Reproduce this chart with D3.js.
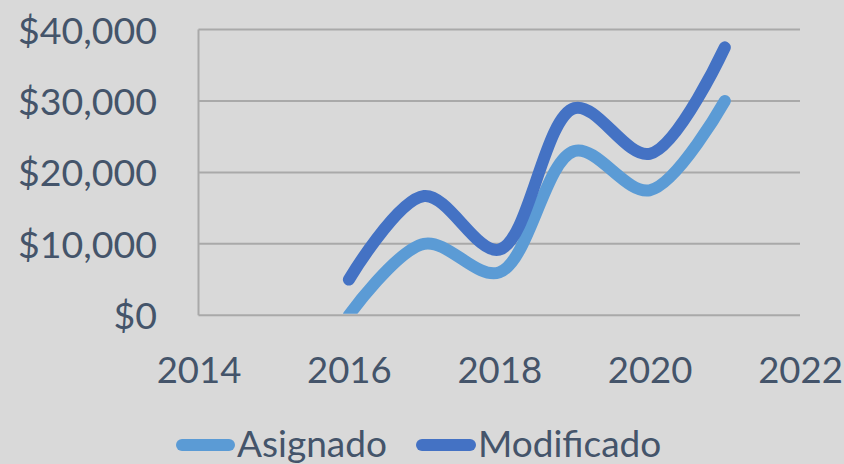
<!DOCTYPE html>
<html><head><meta charset="utf-8">
<script src="https://cdn.jsdelivr.net/npm/d3@7"></script>
<style>
html,body{margin:0;padding:0;background:#d9d9d9;}
svg{display:block;}
text{font-family:Lato,"Open Sans",sans-serif;fill:#44546a;}
</style></head>
<body>
<svg id="chart" width="844" height="464"></svg>
<script>
const years = [2016, 2017, 2018, 2019, 2020, 2021];
const asignado = [0, 10000, 6000, 23000, 17500, 30000];
const modificado = [5000, 16700, 9200, 29000, 22600, 37500];
const seriesNames = ["Asignado", "Modificado"];
const seriesColors = ["#5b9bd5", "#4472c4"];
const xTicks = [2014, 2016, 2018, 2020, 2022];
const yTicks = [0, 10000, 20000, 30000, 40000];

(function () {
const svg = d3.select("#chart");
const W = 844, H = 464;
svg.append("rect").attr("width", W).attr("height", H).attr("fill", "#d9d9d9");

const pL = 198.5, pR = 800, pT = 29.5, pB = 315.3;
const x = d3.scaleLinear().domain([2014, 2022]).range([pL, pR]);
const y = d3.scaleLinear().domain([0, 40000]).range([pB, pT]);

// gridlines
svg.append("g").selectAll("line").data(yTicks).join("line")
  .attr("x1", pL).attr("x2", pR)
  .attr("y1", d => y(d)).attr("y2", d => y(d))
  .attr("stroke", "#a9a9a9").attr("stroke-width", 2);
// left axis line
svg.append("line").attr("x1", pL).attr("x2", pL).attr("y1", pT).attr("y2", pB)
  .attr("stroke", "#a9a9a9").attr("stroke-width", 2);

// y labels
const fmt = d => "$" + d3.format(",")(d);
const yAxis = d3.axisLeft(y).tickValues(yTicks).tickFormat(fmt).tickSize(0).tickPadding(0);
const gy = svg.append("g").attr("transform", `translate(157,0)`).call(yAxis);
gy.select(".domain").remove();
gy.selectAll("text").attr("font-size", 37.5).attr("dy", "0.36em").style("font-family", "Lato,'Open Sans',sans-serif").attr("fill", "#44546a");

// x labels
const xAxis = d3.axisBottom(x).tickValues(xTicks).tickFormat(d3.format("d")).tickSize(0).tickPadding(0);
const gx = svg.append("g").attr("transform", `translate(0,383)`).call(xAxis);
gx.select(".domain").remove();
gx.selectAll("text").attr("font-size", 36.5).attr("dy", 0).style("font-family", "Lato,'Open Sans',sans-serif").attr("fill", "#44546a");

// clip
svg.append("clipPath").attr("id", "plotclip").append("rect")
  .attr("x", pL - 20).attr("y", 0).attr("width", pR - pL + 40).attr("height", pB - 1.5);

const line = d3.line().x(d => x(d[0])).y(d => y(d[1])).curve(d3.curveCatmullRom.alpha(0.5));
const data = [asignado, modificado];
data.forEach((vals, i) => {
  svg.append("path")
    .attr("clip-path", "url(#plotclip)")
    .attr("d", line(years.map((yr, j) => [yr, vals[j]])))
    .attr("fill", "none").attr("stroke", seriesColors[i])
    .attr("stroke-width", 12).attr("stroke-linecap", "round").attr("stroke-linejoin", "round");
});

// legend
const legendItems = [{x1: 182, x2: 229, tx: 237}, {x1: 422, x2: 470, tx: 478}];
seriesNames.forEach((name, i) => {
  const L = legendItems[i];
  svg.append("line").attr("x1", L.x1).attr("x2", L.x2).attr("y1", 445).attr("y2", 445)
    .attr("stroke", seriesColors[i]).attr("stroke-width", 12).attr("stroke-linecap", "round");
  svg.append("text").attr("x", L.tx).attr("y", 457).attr("font-size", 37).text(name);
});
})();
</script>
</body></html>
